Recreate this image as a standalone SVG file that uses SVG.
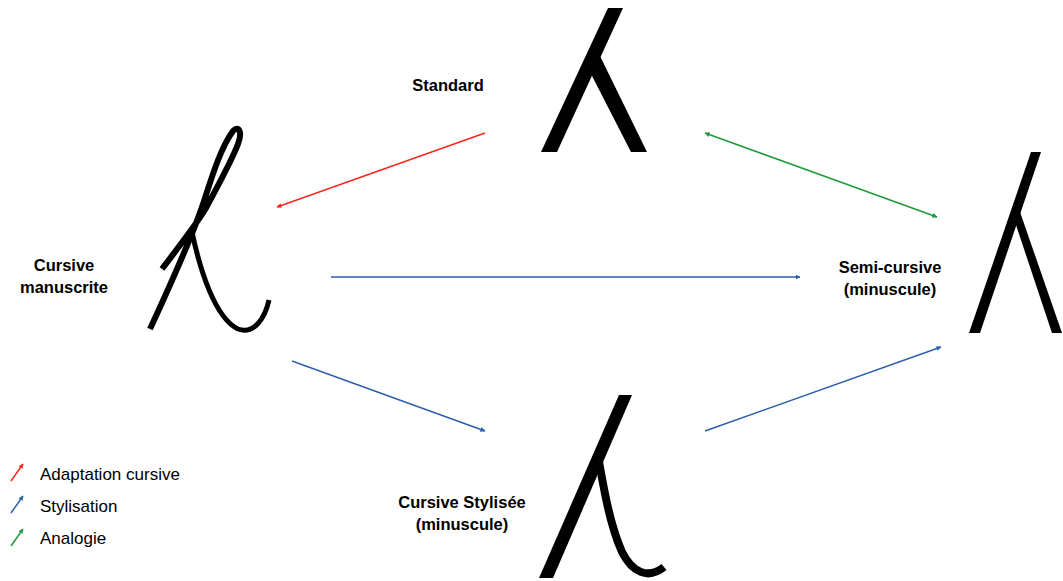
<svg xmlns="http://www.w3.org/2000/svg" width="1063" height="581" viewBox="0 0 1063 581">
<style>
.lbl{font-family:"Liberation Sans",Arial,sans-serif;font-weight:bold;font-size:16.5px;fill:#000;text-anchor:middle}
.leg{font-family:"Liberation Sans",Arial,sans-serif;font-size:17px;fill:#000}
.glyph{fill:none;stroke:#000;stroke-linecap:butt}
.solid{fill:#000;stroke:none}
.red{stroke:#f5281e;stroke-width:1.5;fill:none}
.blue{stroke:#2c5fab;stroke-width:1.5;fill:none}
.green{stroke:#1e9a3c;stroke-width:1.5;fill:none}
</style>
<defs>
<marker id="ar" viewBox="0 0 10 10" refX="9" refY="5" markerWidth="5" markerHeight="5" orient="auto-start-reverse" markerUnits="userSpaceOnUse"><path d="M0,0 L10,5 L0,10 z" fill="#f5281e"/></marker>
<marker id="ab" viewBox="0 0 10 10" refX="9" refY="5" markerWidth="5" markerHeight="5" orient="auto-start-reverse" markerUnits="userSpaceOnUse"><path d="M0,0 L10,5 L0,10 z" fill="#2c5fab"/></marker>
<marker id="ag" viewBox="0 0 10 10" refX="9" refY="5" markerWidth="5" markerHeight="5" orient="auto-start-reverse" markerUnits="userSpaceOnUse"><path d="M0,0 L10,5 L0,10 z" fill="#1e9a3c"/></marker>
</defs>
<rect width="1063" height="581" fill="#fff"/>

<g id="standard">
<polygon class="solid" points="608,8 623,8 557,152 541,152"/>
<polygon class="solid" points="600,56 647,152 631,152 590,72"/>
<text class="lbl" x="448" y="91">Standard</text>
</g>

<g id="cursive-manuscrite">
<path class="glyph" stroke-width="6" stroke-linecap="round" d="M162,269 C180,245 196,225 206,208 C220,182 232,160 238,144 C243,131 238,125 233,131 C222,146 214,170 206,195 C196,228 175,275 150,329"/>
<path class="glyph" stroke-width="5" stroke-linecap="round" d="M192,232 C200,270 215,318 238,329 C254,335 265,318 269,300"/>
<text class="lbl" x="64" y="271">Cursive</text>
<text class="lbl" x="64" y="293">manuscrite</text>
</g>

<g id="semi-cursive">
<polygon class="solid" points="1031,152 1041,152 980,333 969,333"/>
<polygon class="solid" points="1020,212 1062,333 1052,333 1015,222"/>
<text class="lbl" x="890" y="273">Semi-cursive</text>
<text class="lbl" x="890" y="295">(minuscule)</text>
</g>

<g id="cursive-stylisee">
<polygon class="solid" points="619,395 632,395 553,578 539,578"/>
<path class="glyph" stroke-width="8" d="M598,456 C604,490 610,525 622,552 C632,572 648,580 664,567"/>
<text class="lbl" x="462" y="508">Cursive Stylisée</text>
<text class="lbl" x="462" y="530">(minuscule)</text>
</g>

<g id="connectors">
<line class="red" x1="485" y1="133" x2="277" y2="207" marker-end="url(#ar)"/>
<line class="green" x1="705" y1="133" x2="937" y2="217" marker-start="url(#ag)" marker-end="url(#ag)"/>
<line class="blue" x1="331" y1="277" x2="800" y2="277" marker-end="url(#ab)"/>
<line class="blue" x1="292" y1="361" x2="485" y2="431" marker-end="url(#ab)"/>
<line class="blue" x1="705" y1="431" x2="941" y2="347" marker-end="url(#ab)"/>
</g>

<g id="legend">
<line class="red" x1="11" y1="481" x2="23" y2="464" marker-end="url(#ar)"/>
<text class="leg" x="40" y="480">Adaptation cursive</text>
<line class="blue" x1="11" y1="513" x2="23" y2="496" marker-end="url(#ab)"/>
<text class="leg" x="40" y="512">Stylisation</text>
<line class="green" x1="11" y1="546" x2="23" y2="529" marker-end="url(#ag)"/>
<text class="leg" x="40" y="544">Analogie</text>
</g>
</svg>
